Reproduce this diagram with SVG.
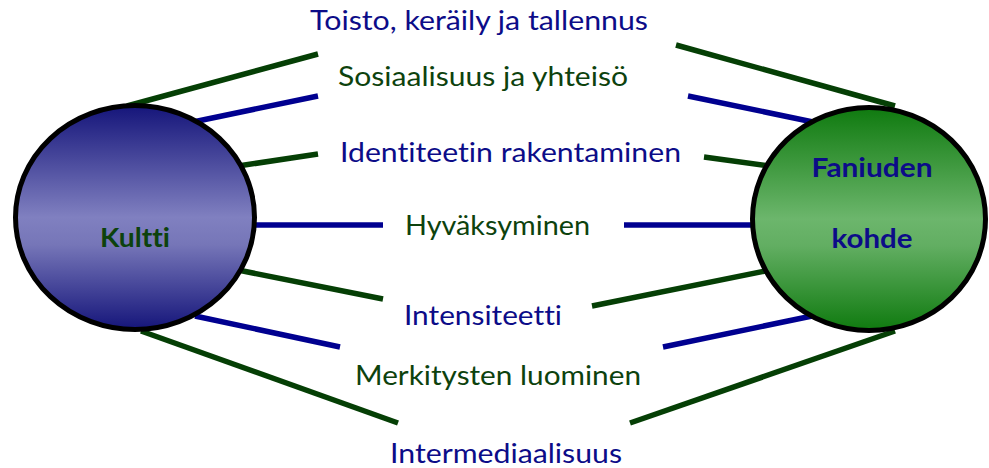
<svg xmlns="http://www.w3.org/2000/svg" width="989" height="468" viewBox="0 0 989 468">
<defs>
<linearGradient id="gBlue" x1="0" y1="0" x2="0" y2="1">
<stop offset="0" stop-color="#15157a"/>
<stop offset="0.5" stop-color="#8080c0"/>
<stop offset="0.62" stop-color="#7676b8"/>
<stop offset="1" stop-color="#15157a"/>
</linearGradient>
<linearGradient id="gGreen" x1="0" y1="0" x2="0" y2="1">
<stop offset="0" stop-color="#0f7a0f"/>
<stop offset="0.5" stop-color="#6cb66c"/>
<stop offset="0.62" stop-color="#62ae62"/>
<stop offset="1" stop-color="#0f7a0f"/>
</linearGradient>
<style>
.g{stroke:#053f05;stroke-width:5.5;fill:none}
.b{stroke:#000090;stroke-width:5.5;fill:none}
.node{stroke:#000;stroke-width:5}
text{font-variant-ligatures:none;font-feature-settings:"liga" 0,"clig" 0}
.lbl{font-family:Lato,"Liberation Sans",sans-serif;font-size:26px}
.tn{fill:#0c0c88}
.tg{fill:#0d420d}
.nl{font-family:Lato,"Liberation Sans",sans-serif;font-size:27px;font-weight:bold;text-anchor:middle}
</style>
</defs>
<g id="connectors">
<line class="g" x1="127" y1="106" x2="318" y2="54"/>
<line class="g" x1="895" y1="106" x2="676" y2="45"/>
<line class="b" x1="193" y1="122" x2="318" y2="96"/>
<line class="b" x1="813" y1="122" x2="688" y2="96"/>
<line class="g" x1="238" y1="166" x2="318" y2="154"/>
<line class="g" x1="770" y1="166" x2="704" y2="157"/>
<line class="b" x1="255" y1="225" x2="383" y2="225"/>
<line class="b" x1="754" y1="225" x2="624" y2="225"/>
<line class="g" x1="238" y1="270" x2="383" y2="299"/>
<line class="g" x1="770" y1="270" x2="592" y2="306"/>
<line class="b" x1="195" y1="316" x2="340" y2="347"/>
<line class="b" x1="812" y1="316" x2="663" y2="347"/>
<line class="g" x1="141" y1="331" x2="398" y2="423"/>
<line class="g" x1="895" y1="331" x2="630" y2="423"/>
</g>
<g id="kultti">
<ellipse class="node" cx="135" cy="217.5" rx="119.5" ry="112" fill="url(#gBlue)"/>
<text class="nl tg" x="135" y="247" textLength="70" lengthAdjust="spacingAndGlyphs">Kultti</text>
</g>
<g id="faniuden-kohde">
<ellipse class="node" cx="869" cy="219" rx="116.5" ry="111.5" fill="url(#gGreen)"/>
<text class="nl tn" x="872" y="177" textLength="121" lengthAdjust="spacingAndGlyphs">Faniuden</text>
<text class="nl tn" x="872" y="248" textLength="81" lengthAdjust="spacingAndGlyphs">kohde</text>
</g>
<g id="toisto"><text class="lbl tn" x="310" y="30" textLength="338" lengthAdjust="spacingAndGlyphs">Toisto, keräily ja tallennus</text></g>
<g id="sosiaalisuus"><text class="lbl tg" x="338" y="86" textLength="290" lengthAdjust="spacingAndGlyphs">Sosiaalisuus ja yhteisö</text></g>
<g id="identiteetti"><text class="lbl tn" x="340" y="162" textLength="341" lengthAdjust="spacingAndGlyphs">Identiteetin rakentaminen</text></g>
<g id="hyvaksyminen"><text class="lbl tg" x="405" y="235" textLength="185" lengthAdjust="spacingAndGlyphs">Hyväksyminen</text></g>
<g id="intensiteetti"><text class="lbl tn" x="404" y="325" textLength="158" lengthAdjust="spacingAndGlyphs">Intensiteetti</text></g>
<g id="merkitysten"><text class="lbl tg" x="355" y="385" textLength="286" lengthAdjust="spacingAndGlyphs">Merkitysten luominen</text></g>
<g id="intermediaalisuus"><text class="lbl tn" x="390" y="463" textLength="232" lengthAdjust="spacingAndGlyphs">Intermediaalisuus</text></g>
</svg>
